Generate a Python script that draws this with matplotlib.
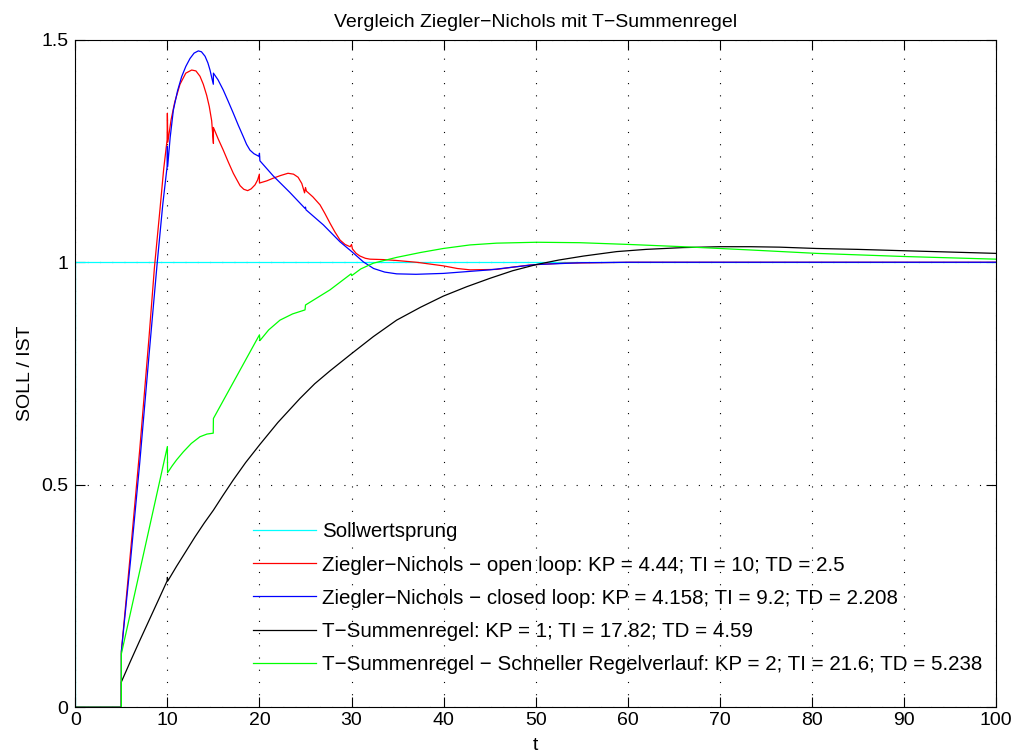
import matplotlib
matplotlib.use("Agg")
import matplotlib.pyplot as plt

plt.rcParams['font.family'] = ['Liberation Sans', 'DejaVu Sans']
plt.rcParams['font.size'] = 14

# Sollwertsprung
soll_t = [0, 0, 100]
soll_y = [0, 1, 1]

# Ziegler-Nichols, open loop
zn_open_t = [0, 5, 5, 6, 7, 8, 8.6, 9.2, 9.6, 9.97, 10.0, 10.05, 10.4, 10.8, 11.37, 12.0, 12.64,
             13.1, 13.54, 13.9, 14.27, 14.55, 14.81, 15.0, 15.0, 15.5, 16.07, 16.6, 17.16, 17.5,
             17.9, 18.3, 18.72, 19.1, 19.52, 19.8, 19.99, 20.0, 20.8, 21.5, 22.3, 23.1, 23.7,
             24.2, 24.6, 24.9, 25.0, 25.1, 25.8, 26.58, 27.1, 27.66, 28.2, 28.75, 29.3, 29.85,
             30.0, 30.1, 30.5, 30.92, 31.5, 32.0, 33.5, 34.9, 37.08, 39.97, 41.5, 42.87, 45.77,
             47.5, 49.39, 53.0, 60.2, 70, 80, 90, 100]
zn_open_y = [0, 0, 0.125, 0.35, 0.58, 0.83, 0.99, 1.12, 1.21, 1.275, 1.335, 1.27, 1.32, 1.36, 1.40, 1.425, 1.432,
             1.43, 1.418, 1.40, 1.375, 1.35, 1.318, 1.267, 1.303, 1.278, 1.252, 1.226, 1.20, 1.187,
             1.172, 1.164, 1.161, 1.165, 1.174, 1.185, 1.198, 1.178, 1.183, 1.189, 1.195, 1.20, 1.198,
             1.191, 1.177, 1.156, 1.168, 1.160, 1.147, 1.129, 1.11, 1.088, 1.068, 1.05, 1.04, 1.035,
             1.04, 1.03, 1.02, 1.014, 1.009, 1.007, 1.006, 1.004, 1.0, 0.992, 0.986, 0.983, 0.984,
             0.989, 0.994, 0.998, 1.0, 1.0, 1.0, 1.0, 1.0]

# Ziegler-Nichols, closed loop
zn_closed_t = [0, 5, 5, 6, 7, 8, 8.9, 9.5, 9.97, 10.0, 10.03, 10.3, 10.65, 11.1, 11.55, 12.0, 12.46,
               12.9, 13.36, 13.7, 14.09, 14.4, 14.63, 14.85, 14.99, 15.0, 15.5, 16.07, 16.6, 17.16,
               17.7, 18.25, 18.6, 18.97, 19.4, 19.95, 20.0, 20.05, 21.5, 23.3, 24.95, 25.0, 25.05,
               26.94, 28.75, 30.02, 31.28, 32.4, 33.6, 34.9, 37.0, 39.97, 42.5, 45.04, 47.5, 50.1,
               55.0, 60.2, 70, 80, 90, 100]
zn_closed_y = [0, 0, 0.125, 0.33, 0.55, 0.79, 1.0, 1.13, 1.215, 1.26, 1.215, 1.28, 1.342, 1.385, 1.417, 1.44, 1.458,
               1.47, 1.475, 1.473, 1.463, 1.448, 1.432, 1.412, 1.40, 1.425, 1.41, 1.387, 1.362, 1.335,
               1.308, 1.282, 1.265, 1.252, 1.244, 1.238, 1.245, 1.228, 1.194, 1.157, 1.121, 1.124, 1.118,
               1.084, 1.046, 1.024, 1.001, 0.986, 0.978, 0.974, 0.973, 0.975, 0.979, 0.983, 0.989, 0.995,
               0.999, 1.0, 1.0, 1.0, 1.0, 1.0]

# T-Summenregel
ts_t = [0, 5, 5, 6, 7, 8, 9, 9.97, 10.0, 10.05, 11, 12, 13, 14, 15, 16, 17.16, 18.5, 20.06, 22,
        24.4, 26, 27.66, 30.02, 32.37, 34.9, 37.5, 39.97, 42.5, 45.04, 47.5, 50.1, 52.5, 55.2,
        58.8, 62, 66, 70, 73.3, 76.5, 80.5, 85, 89.9, 95, 100]
ts_y = [0, 0, 0.057, 0.104, 0.150, 0.195, 0.240, 0.284, 0.292, 0.284, 0.317, 0.35, 0.383, 0.414, 0.443,
        0.475, 0.511, 0.55, 0.591, 0.64, 0.694, 0.727, 0.756, 0.795, 0.833, 0.870, 0.899, 0.924, 0.945,
        0.964, 0.981, 0.995, 1.005, 1.014, 1.024, 1.029, 1.033, 1.035, 1.035, 1.034, 1.031, 1.029,
        1.026, 1.023, 1.02]

# T-Summenregel, schneller Regelverlauf
ts_fast_t = [0, 5, 5, 10.0, 10.02, 10.5, 11.0, 11.73, 12.6, 13.54, 14.3, 14.98, 15.0, 20.0, 20.05,
             21.0, 22.23, 23.6, 24.95, 25.0, 27.66, 29.95, 30.02, 31.0, 32.37, 34.9, 37.5, 39.97,
             42.87, 45.77, 50.1, 54.8, 60.2, 66.0, 73.0, 80.5, 90, 100]
ts_fast_y = [0, 0, 0.12, 0.586, 0.527, 0.542, 0.556, 0.574, 0.593, 0.608, 0.614, 0.616, 0.649, 0.837, 0.824,
             0.848, 0.870, 0.884, 0.893, 0.904, 0.938, 0.974, 0.970, 0.985, 0.998, 1.011, 1.022, 1.031,
             1.039, 1.043, 1.045, 1.044, 1.04, 1.035, 1.028, 1.02, 1.013, 1.007]

labels = ['Sollwertsprung',
          'Ziegler\u2212Nichols \u2212 open loop: KP = 4.44; TI = 10; TD = 2.5',
          'Ziegler\u2212Nichols \u2212 closed loop: KP = 4.158; TI = 9.2; TD = 2.208',
          'T\u2212Summenregel: KP = 1; TI = 17.82; TD = 4.59',
          'T\u2212Summenregel \u2212 Schneller Regelverlauf: KP = 2; TI = 21.6; TD = 5.238']
colors = ['#00ffff', '#ff0000', '#0000ff', '#000000', '#00ff00']

fig = plt.figure(figsize=(10.15, 7.56), dpi=100)
ax = fig.add_axes([0.0742, 0.0644, 0.9071, 0.883])

series = [(soll_t, soll_y), (zn_open_t, zn_open_y), (zn_closed_t, zn_closed_y),
          (ts_t, ts_y), (ts_fast_t, ts_fast_y)]
for (t, y), c, lab in zip(series, colors, labels):
    ax.plot(t, y, color=c, lw=0.9, label=lab)

ax.set_xlim(0, 100)
ax.set_ylim(0, 1.5)
ax.set_xticks(range(0, 101, 10))
ax.set_yticks([0, 0.5, 1, 1.5])
ax.set_yticklabels(['0', '0.5', '1', '1.5'])
ax.tick_params(direction='in', top=True, right=True, length=7, width=0.8, labelsize=14)
ax.tick_params(axis='x', pad=3.5)
ax.tick_params(axis='y', pad=5)
ax.grid(True, color='black', linestyle=(0, (1, 10)), linewidth=0.8)
for s in ax.spines.values():
    s.set_linewidth(0.8)

ax.set_title('Vergleich Ziegler\u2212Nichols mit T\u2212Summenregel', fontsize=14, pad=9.5)
ax.set_xlabel('t', fontsize=14, labelpad=5.5)
ax.set_ylabel('SOLL / IST', fontsize=14, labelpad=5)

leg = ax.legend(loc='lower left', bbox_to_anchor=(0.193, 0.050), frameon=False,
                handlelength=3.05, handletextpad=0.3, labelspacing=0.687,
                borderpad=0, borderaxespad=0, fontsize=14.8)

fig.savefig('out.png', dpi=100)
